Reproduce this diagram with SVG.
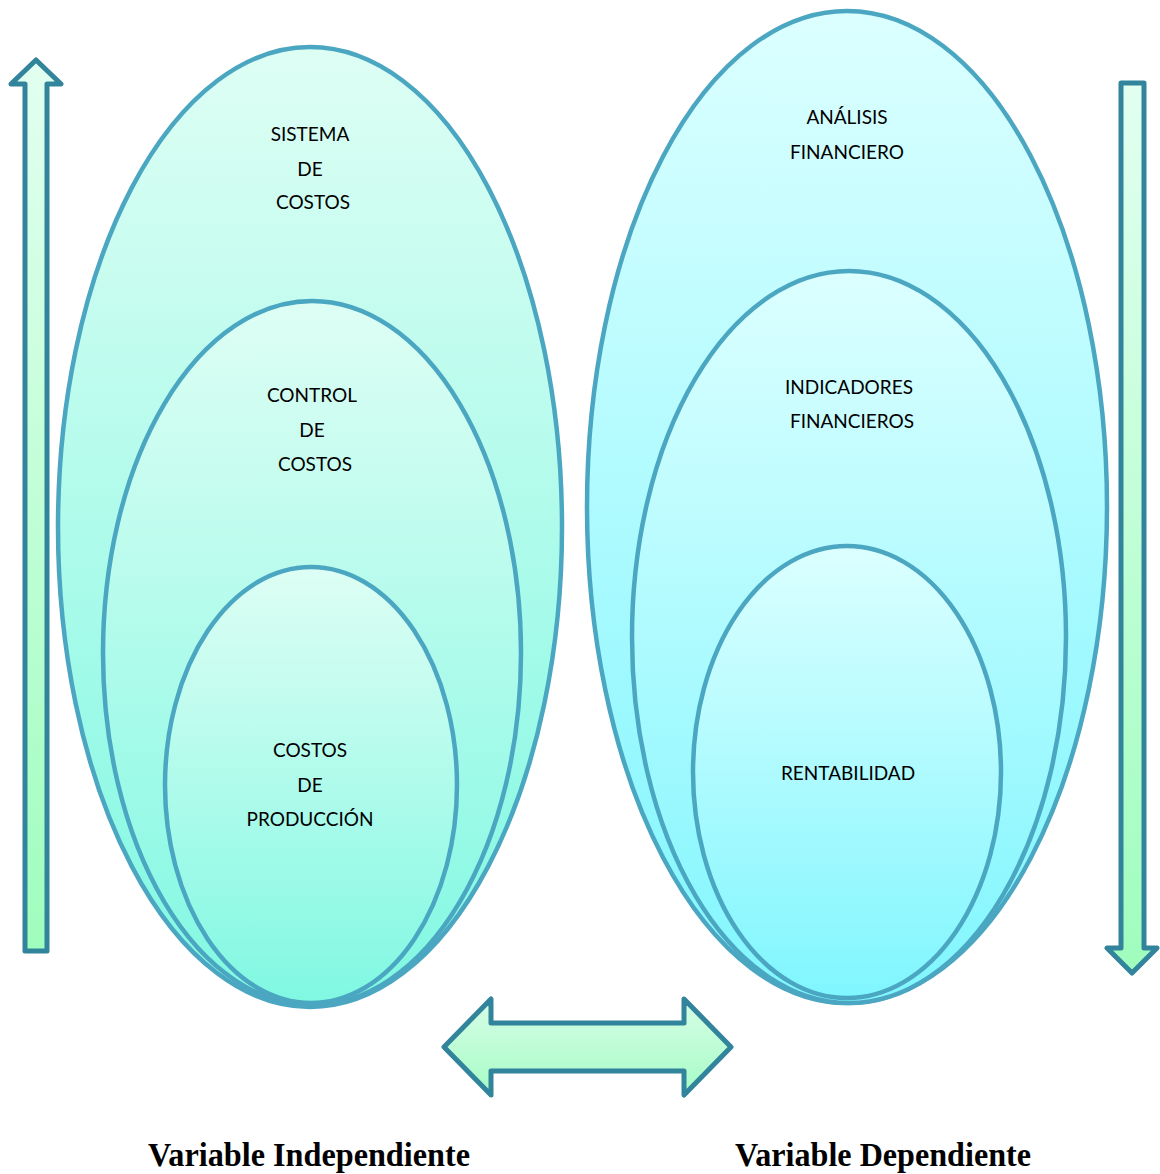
<svg xmlns="http://www.w3.org/2000/svg" width="1160" height="1174" viewBox="0 0 1160 1174">
<defs>
<linearGradient id="gL" x1="0" y1="0" x2="0" y2="1"><stop offset="0" stop-color="#defef4"/><stop offset="1" stop-color="#80f8e2"/></linearGradient>
<linearGradient id="gR" x1="0" y1="0" x2="0" y2="1"><stop offset="0" stop-color="#dcffff"/><stop offset="1" stop-color="#80f6fe"/></linearGradient>
<linearGradient id="gA" x1="0" y1="0" x2="0" y2="1"><stop offset="0" stop-color="#e2fff0"/><stop offset="1" stop-color="#9ffdbd"/></linearGradient>
<linearGradient id="gH" x1="0" y1="0" x2="0" y2="1"><stop offset="0" stop-color="#d6fee6"/><stop offset="1" stop-color="#a6fbc6"/></linearGradient>
</defs>
<style>
.e{stroke:#4ba7c1;stroke-width:4.5}
.l{fill:url(#gL)}
.r{fill:url(#gR)}
.ar{stroke:#31849b;stroke-width:5;stroke-linejoin:round}
.t{font-family:Lato,"Open Sans",sans-serif;font-size:19px;fill:#000;text-anchor:middle}
.b{font-family:"Liberation Serif",serif;font-weight:bold;font-size:33px;fill:#000}
</style>
<g id="arrow-up"><path class="ar" fill="url(#gA)" d="M25,951 L25,84 L11,84 L36,60 L61,84 L47,84 L47,951 Z"/></g>
<g id="arrow-down"><path class="ar" fill="url(#gA)" d="M1121,83 L1144,83 L1144,948 L1157,948 L1132,973 L1107,948 L1121,948 Z"/></g>
<g id="arrow-both"><path class="ar" fill="url(#gH)" d="M444,1047 L491,999 L491,1023 L684,1023 L684,999 L731,1047 L684,1095 L684,1071 L491,1071 L491,1095 Z"/></g>
<g id="sistema"><ellipse class="e l" cx="310" cy="527" rx="252" ry="480"/><text class="t" x="310" y="141">SISTEMA</text><text class="t" x="310" y="176">DE</text><text class="t" x="313" y="209">COSTOS</text></g>
<g id="control"><ellipse class="e l" cx="312" cy="653" rx="209" ry="352"/><text class="t" x="312" y="402">CONTROL</text><text class="t" x="312" y="437">DE</text><text class="t" x="315" y="471">COSTOS</text></g>
<g id="produccion"><ellipse class="e l" cx="311" cy="785" rx="146" ry="218"/><text class="t" x="310" y="757">COSTOS</text><text class="t" x="310" y="792">DE</text><text class="t" x="310" y="826">PRODUCCIÓN</text></g>
<g id="analisis"><ellipse class="e r" cx="847" cy="507" rx="260" ry="496"/><text class="t" x="847" y="124">ANÁLISIS</text><text class="t" x="847" y="159">FINANCIERO</text></g>
<g id="indicadores"><ellipse class="e r" cx="849" cy="637" rx="217" ry="366"/><text class="t" x="849" y="394">INDICADORES</text><text class="t" x="852" y="428">FINANCIEROS</text></g>
<g id="rentabilidad"><ellipse class="e r" cx="847" cy="772" rx="154" ry="226"/><text class="t" x="848" y="780">RENTABILIDAD</text></g>
<g id="labels"><text class="b" x="148" y="1166" textLength="322" lengthAdjust="spacingAndGlyphs">Variable Independiente</text><text class="b" x="735" y="1166" textLength="296" lengthAdjust="spacingAndGlyphs">Variable Dependiente</text></g>
</svg>
